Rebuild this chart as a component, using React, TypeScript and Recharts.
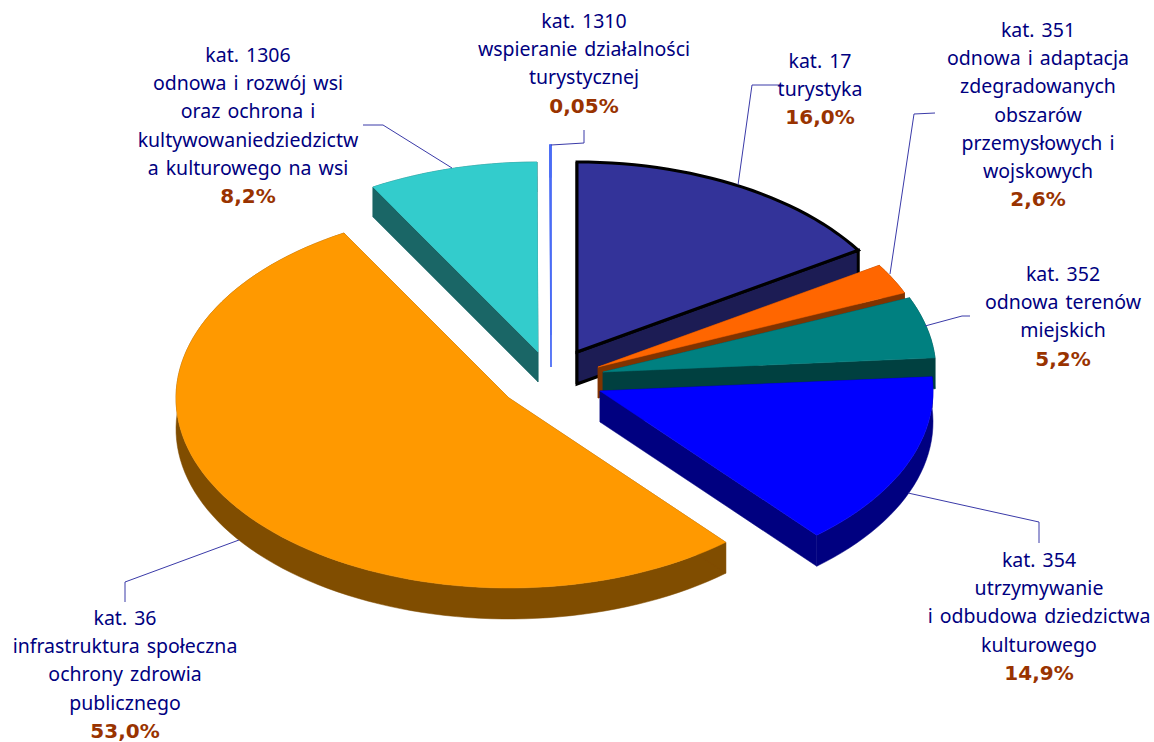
import { Pie, PieChart } from "recharts";

const categories = ["kat. 17", "kat. 351", "kat. 352", "kat. 354", "kat. 36", "kat. 1306", "kat. 1310"];
const shares = [16.0, 2.6, 5.2, 14.9, 53.0, 8.2, 0.05];
const shareLabels = ["16,0%", "2,6%", "5,2%", "14,9%", "53,0%", "8,2%", "0,05%"];
const descriptions = [
  ["turystyka"],
  ["odnowa i adaptacja", "zdegradowanych", "obszarów", "przemysłowych i", "wojskowych"],
  ["odnowa terenów", "miejskich"],
  ["utrzymywanie", "i odbudowa dziedzictwa", "kulturowego"],
  ["infrastruktura społeczna", "ochrony zdrowia", "publicznego"],
  ["odnowa i rozwój wsi", "oraz ochrona i", "kultywowaniedziedzictw", "a kulturowego na wsi"],
  ["wspieranie działalności", "turystycznej"],
];

const topColors = ["#333399", "#FF6600", "#008080", "#0000FF", "#FF9900", "#33CCCC", "#4A6CF5"];
const sideColors = ["#1C1C54", "#803300", "#004040", "#000080", "#804D00", "#1A6666", "#4A6CF5"];

// how far each slice is pulled out of the pie centre, and its wall height
const CX = 556;
const CY = 360;
const TILT = 190 / 333;
const offsets = [
  [21, -8],
  [42, 7],
  [47, 12],
  [44, 31],
  [-47, 38],
  [-18, -8],
  [-5, -25],
];
const depths = [32, 31, 31, 31, 31, 30, 32];

// label block: centre x, first line centre y
const labelAnchors = [
  [820, 61],
  [1038, 30],
  [1063, 274],
  [1039, 560],
  [125, 618],
  [248, 55],
  [584, 21],
];
const leaders = [
  "783,85 752,85 738,185",
  "935,113 914,114 890,274",
  "970,316 962,316 925,326",
  "908,493 1039,522 1039,543",
  "239,540 125,582 125,602",
  "363,125 383,125 452,168",
  "584,130 584,143 551,145",
];

const LINE_HEIGHT = 28.2;
const TEXT_FONT = "'Noto Sans', sans-serif";
const SHARE_FONT = "'DejaVu Sans', sans-serif";

const chartData = categories.map((name, i) => ({ name, value: shares[i] }));

function Slice3D(props: any) {
  const { cx, cy, outerRadius, startAngle, endAngle, index } = props;
  const [dx, dy] = offsets[index];
  const depth = depths[index];
  const rx = outerRadius;
  const ry = outerRadius * TILT;
  const ox = cx + dx;
  const oy = cy + dy;
  const at = (deg: number): [number, number] => [
    ox + rx * Math.cos((deg * Math.PI) / 180),
    oy - ry * Math.sin((deg * Math.PI) / 180),
  ];
  const rim: [number, number][] = [];
  const steps = Math.max(2, Math.ceil(Math.abs(endAngle - startAngle) / 2));
  for (let i = 0; i <= steps; i++) {
    rim.push(at(startAngle + ((endAngle - startAngle) * i) / steps));
  }
  const toPath = (pts: [number, number][]) =>
    "M" + pts.map((p) => `${p[0].toFixed(2)},${p[1].toFixed(2)}`).join("L") + "Z";
  const drop = (p: [number, number]): [number, number] => [p[0], p[1] + depth];
  const apex: [number, number] = [ox, oy];
  const first = rim[0];
  const last = rim[rim.length - 1];
  const selected = index === 0;
  const hairline = index === 6 ? 1.3 : 0.5;
  const edge = selected ? "#000" : undefined;
  return (
    <g>
      {/* the rim of the selected slice sits behind its top, so it gets no outline */}
      <path
        d={toPath([...rim, ...rim.map(drop).reverse()])}
        fill={sideColors[index]}
        stroke={selected ? "none" : sideColors[index]}
        strokeWidth={hairline}
      />
      {[first, last].map((p, i) => (
        <path
          key={i}
          d={toPath([apex, p, drop(p), drop(apex)])}
          fill={sideColors[index]}
          stroke={edge ?? sideColors[index]}
          strokeWidth={selected ? 3 : hairline}
        />
      ))}
      <path
        d={toPath([apex, ...rim])}
        fill={topColors[index]}
        stroke={edge ?? topColors[index]}
        strokeWidth={selected ? 3 : hairline}
      />
    </g>
  );
}

function SliceLabel(props: any) {
  const { index } = props;
  const [x, y] = labelAnchors[index];
  const lines = [categories[index], ...descriptions[index]];
  return (
    <g>
      <polyline points={leaders[index]} fill="none" stroke="#3A3AA8" strokeWidth={1} />
      {lines.map((line, i) => (
        <text
          key={i}
          x={x}
          y={y + i * LINE_HEIGHT + 7}
          textAnchor="middle"
          fontFamily={TEXT_FONT}
          fontSize={19.5}
          fill="#000080"
          style={{ wordSpacing: 2 }}
        >
          {line}
        </text>
      ))}
      <text
        x={x}
        y={y + lines.length * LINE_HEIGHT + 7}
        textAnchor="middle"
        fontFamily={SHARE_FONT}
        fontSize={20}
        fontWeight="bold"
        fill="#993300"
      >
        {shareLabels[index]}
      </text>
    </g>
  );
}

export default function App() {
  return (
    <div style={{ position: "absolute", left: 0, top: 0, width: 1154, height: 742, background: "#fff" }}>
      <PieChart width={1154} height={742} margin={{ top: 0, right: 0, bottom: 0, left: 0 }}>
        <Pie
          data={chartData}
          dataKey="value"
          nameKey="name"
          cx={CX}
          cy={CY}
          outerRadius={333}
          startAngle={90}
          endAngle={-270}
          stroke="none"
          shape={Slice3D}
          label={SliceLabel}
          labelLine={false}
          isAnimationActive={false}
        />
      </PieChart>
    </div>
  );
}
